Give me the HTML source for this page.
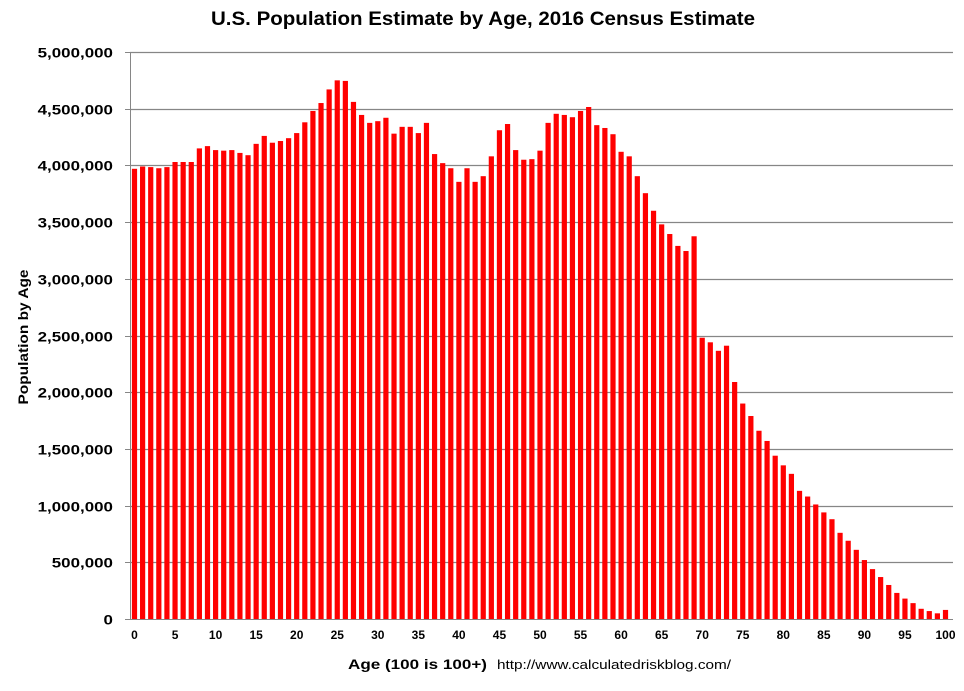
<!DOCTYPE html>
<html><head><meta charset="utf-8"><style>
body{margin:0;background:#fff;font-family:"Liberation Sans",sans-serif}
</style></head><body>
<svg width="964" height="686" viewBox="0 0 964 686">
<text x="483" y="25" text-anchor="middle" font-size="19" font-weight="bold" fill="#000" textLength="544" lengthAdjust="spacingAndGlyphs">U.S. Population Estimate by Age, 2016 Census Estimate</text>
<g id="grid"></g><g id="bars"></g><g id="axes"></g>
<text transform="translate(28,337) rotate(-90)" text-anchor="middle" font-size="14" font-weight="bold" textLength="135" lengthAdjust="spacingAndGlyphs">Population by Age</text>
<text x="348" y="669" font-size="14" font-weight="bold" textLength="139" lengthAdjust="spacingAndGlyphs">Age  (100 is 100+)</text>
<text x="497" y="669" font-size="13" textLength="234" lengthAdjust="spacingAndGlyphs">http://www.calculatedriskblog.com/</text>
</svg>
<script>
const ages=[];for(let i=0;i<=100;i++)ages.push(i);
const populationMillions=[3.97,3.99,3.985,3.975,3.985,4.03,4.03,4.03,4.15,4.17,4.135,4.13,4.135,4.11,4.09,4.19,4.26,4.2,4.215,4.24,4.285,4.38,4.48,4.55,4.67,4.75,4.745,4.56,4.445,4.375,4.39,4.42,4.28,4.34,4.34,4.285,4.375,4.1,4.02,3.975,3.855,3.975,3.855,3.905,4.08,4.31,4.365,4.135,4.05,4.055,4.13,4.375,4.455,4.445,4.425,4.48,4.515,4.355,4.33,4.275,4.12,4.08,3.905,3.755,3.6,3.48,3.395,3.29,3.245,3.375,2.48,2.44,2.365,2.41,2.09,1.9,1.79,1.66,1.57,1.44,1.355,1.28,1.13,1.08,1.01,0.94,0.88,0.76,0.69,0.61,0.52,0.44,0.37,0.3,0.23,0.18,0.14,0.09,0.07,0.05,0.08];
const yTicks=[0,500000,1000000,1500000,2000000,2500000,3000000,3500000,4000000,4500000,5000000];
const yTickLabels=["0","500,000","1,000,000","1,500,000","2,000,000","2,500,000","3,000,000","3,500,000","4,000,000","4,500,000","5,000,000"];
const xTickAges=[0,5,10,15,20,25,30,35,40,45,50,55,60,65,70,75,80,85,90,95,100];
const NS="http://www.w3.org/2000/svg";
const y0=619,y1=52,x0=130,x1=953;
const yScale=v=>y0-(v/5000000)*(y0-y1);
const xScale=a=>134.5+a*(945.5-134.5)/100;
function mk(t,attrs,parent){const e=document.createElementNS(NS,t);for(const k in attrs)e.setAttribute(k,attrs[k]);parent.appendChild(e);return e;}
const grid=document.getElementById('grid'),bars=document.getElementById('bars'),axes=document.getElementById('axes');
yTicks.forEach((v,i)=>{const y=Math.round(yScale(v))+0.5;
 if(i>0){const g=mk('line',{x1:x0,x2:x1,y1:y,y2:y,stroke:'#868686','stroke-width':1.3},grid);
 
 }
 const tk=mk('line',{x1:x0-5,x2:x0,y1:y,y2:y,stroke:'#868686'},axes);
 
 
 const t=mk('text',{x:113,y:y+5,'text-anchor':'end','font-size':14,'font-weight':'bold'},axes);t.textContent=yTickLabels[i];
 
 
 const w=t.getComputedTextLength();if(w>0){t.setAttribute('textLength',w*1.21);t.setAttribute('lengthAdjust','spacingAndGlyphs');}
});
ages.forEach((a,i)=>{const v=populationMillions[i]*1e6;const y=yScale(v);
 const r=mk('rect',{x:xScale(a)-2.6,y:y,width:5.2,height:y0-y,fill:'#ff0000'},bars);
 
 
});
const ax=mk('line',{x1:x0+0.5,x2:x0+0.5,y1:y1,y2:y0,stroke:'#868686'},axes);


const xa=mk('line',{x1:x0,x2:x1,y1:y0+0.5,y2:y0+0.5,stroke:'#868686'},axes);


xTickAges.forEach(a=>{const t=mk('text',{x:xScale(a),y:639,'text-anchor':'middle','font-size':12,'font-weight':'bold'},axes);t.textContent=a;
 
 
});
</script>
</body></html>
